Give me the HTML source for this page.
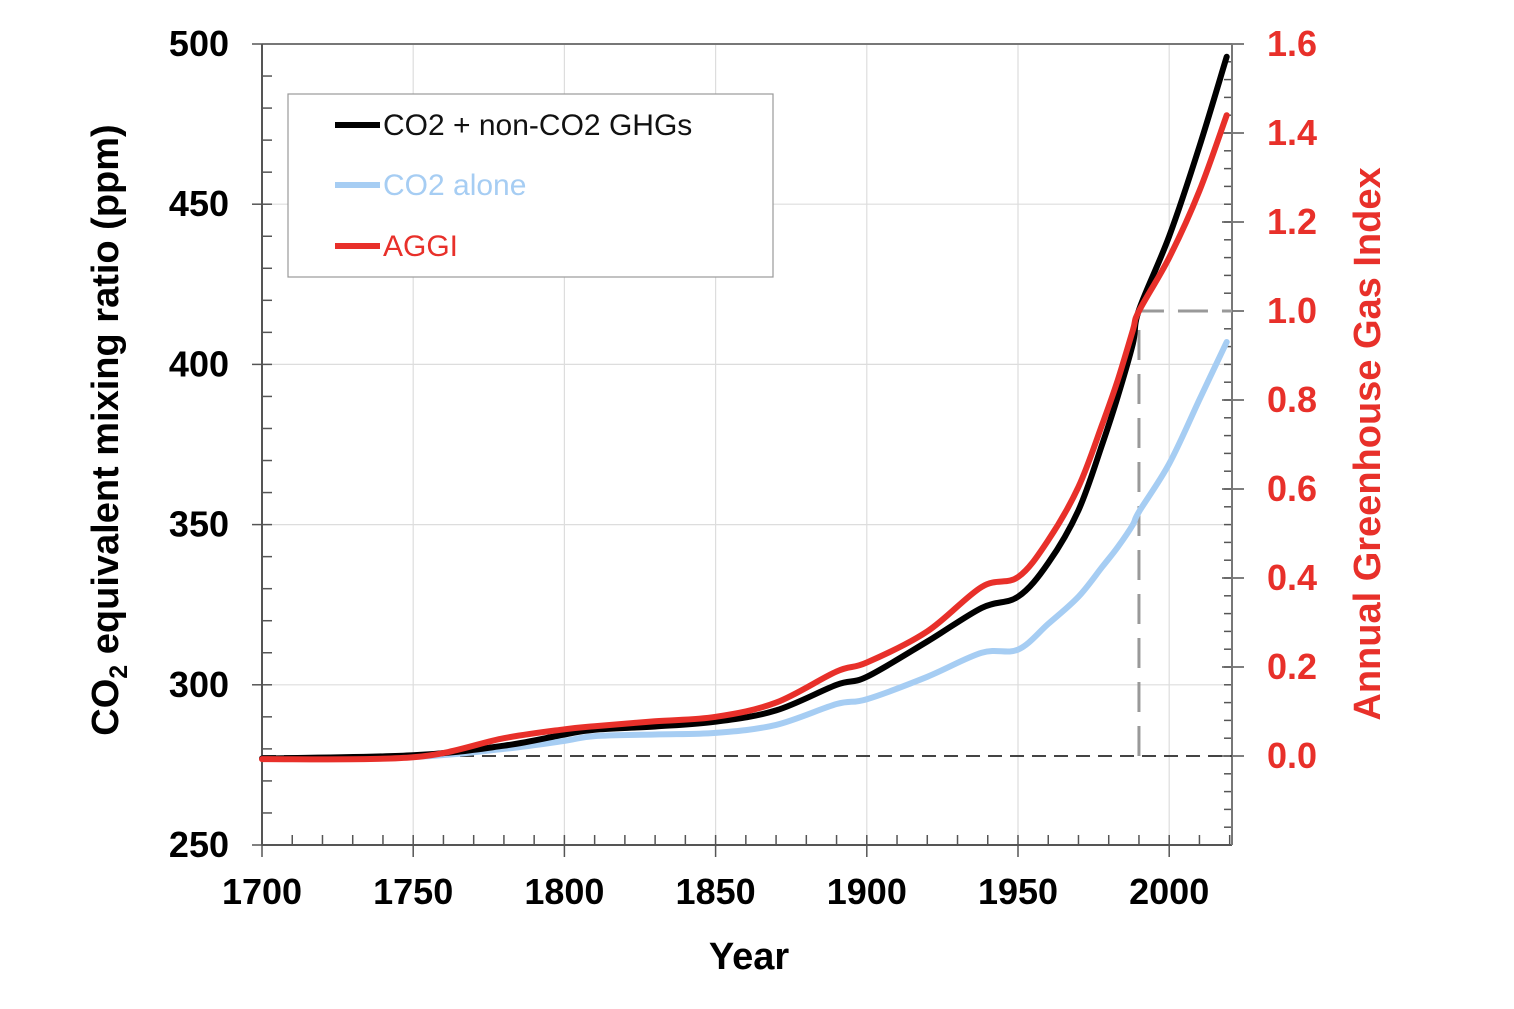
<!DOCTYPE html>
<html><head><meta charset="utf-8"><style>
body{margin:0;background:#fff}
svg{font-family:"Liberation Sans",Arial,sans-serif}
</style></head><body>
<svg id="chart" width="1514" height="1004" viewBox="0 0 1514 1004">
<g id="grid"></g>
<g id="axes"></g>
<g id="series"></g>
<g>
<rect x="288" y="94" width="485" height="183" fill="#fff" stroke="#999" stroke-width="1.2"/>
<line x1="335" y1="125" x2="380" y2="125" stroke="#000" stroke-width="6"/>
<text x="383" y="135" font-size="30" fill="#111">CO2 + non-CO2 GHGs</text>
<line x1="335" y1="185" x2="380" y2="185" stroke="#a6cdf3" stroke-width="6"/>
<text x="383" y="195" font-size="30" fill="#a6cdf3">CO2 alone</text>
<line x1="335" y1="246" x2="380" y2="246" stroke="#e8302a" stroke-width="6"/>
<text x="383" y="256" font-size="30" fill="#e8302a">AGGI</text>
</g>
<text x="749" y="969" font-size="38" font-weight="bold" text-anchor="middle">Year</text>
<text transform="translate(118,430) rotate(-90)" font-size="38" font-weight="bold" text-anchor="middle">CO<tspan font-size="25" dy="9">2</tspan><tspan dy="-9"> equivalent mixing ratio (ppm)</tspan></text>
<text transform="translate(1380,444) rotate(-90)" font-size="38" font-weight="bold" text-anchor="middle" fill="#e8302a">Annual Greenhouse Gas Index</text>
</svg>
<script>
const years=[1700,1750,1780,1800,1810,1830,1850,1870,1890,1900,1920,1938,1950,1960,1970,1978,1983,1988,1990,2000,2010,2019];
const totalPpm=[277,278,281,284.5,286,287,288.5,292,300,302.5,313.5,324,327.5,338,354.5,375.5,390,406.5,417,440,468,496];
const co2Ppm=[277,277.5,280,282.5,284,284.5,285,287.5,294,295.5,302.5,310,311,319,327.5,337,343,350,354,369,389,407];
const aggi=[-0.007,-0.003,0.04,0.06,0.067,0.078,0.088,0.12,0.19,0.21,0.28,0.38,0.402,0.485,0.605,0.748,0.845,0.957,1.0,1.12,1.27,1.44];
const xTicks=[1700,1750,1800,1850,1900,1950,2000];
const yTicks=[250,300,350,400,450,500];
const rTicks=[0,0.2,0.4,0.6,0.8,1.0,1.2,1.4,1.6];
const NS="http://www.w3.org/2000/svg";
const X0=262,X1=1232,Y0=845,Y1=44;
const xs=y=>X0+(y-1700)*(151.2/50);
const ys=v=>Y0-(v-250)*((Y0-Y1)/250);
const rs=v=>756-v*445;
function mk(p,t,a){const e=document.createElementNS(NS,t);for(const k in a)e.setAttribute(k,a[k]);p.appendChild(e);return e;}
const grid=document.getElementById('grid'),axes=document.getElementById('axes'),ser=document.getElementById('series');
xTicks.forEach(t=>{if(t>1700){const l=mk(grid,'line',{x1:xs(t),x2:xs(t),y1:Y1,y2:Y0,stroke:'#ddd','stroke-width':1.2});

}
const tx=mk(axes,'text',{x:xs(t),y:904,'font-size':36,'font-weight':'bold','text-anchor':'middle'});tx.textContent=t;


mk(axes,'line',{x1:xs(t),x2:xs(t),y1:Y0,y2:Y0+12,stroke:'#555','stroke-width':1.5});});
for(let t=1700;t<=2020;t+=10)mk(axes,'line',{x1:xs(t),x2:xs(t),y1:Y0,y2:Y0-10,stroke:'#555','stroke-width':1.5});
yTicks.forEach(t=>{if(t>250&&t<500){const l=mk(grid,'line',{x1:X0,x2:X1,y1:ys(t),y2:ys(t),stroke:'#ddd','stroke-width':1.2});

}
const tx=mk(axes,'text',{x:229,y:ys(t)+12,'font-size':36,'font-weight':'bold','text-anchor':'end'});tx.textContent=t;


mk(axes,'line',{x1:X0-10,x2:X0,y1:ys(t),y2:ys(t),stroke:'#555','stroke-width':1.5});});
for(let t=250;t<=500;t+=10)mk(axes,'line',{x1:X0,x2:X0+10,y1:ys(t),y2:ys(t),stroke:'#555','stroke-width':1.5});
rTicks.forEach(t=>{const tx=mk(axes,'text',{x:1267,y:rs(t)+12,'font-size':36,'font-weight':'bold',fill:'#e8302a'});tx.textContent=t.toFixed(1);


mk(axes,'line',{x1:X1-10,x2:X1+12,y1:rs(t),y2:rs(t),stroke:'#555','stroke-width':1.5});});
for(let i=-4;i<=40;i++){const y=rs(i*0.04);if(y<=Y0&&y>=Y1)mk(axes,'line',{x1:X1-8,x2:X1,y1:y,y2:y,stroke:'#555','stroke-width':1.5});}
mk(axes,'line',{x1:X0,x2:X1,y1:Y1,y2:Y1,stroke:'#777','stroke-width':2});
mk(axes,'line',{x1:X0,x2:X1,y1:Y0,y2:Y0,stroke:'#555','stroke-width':2});
mk(axes,'line',{x1:X0,x2:X0,y1:Y1,y2:Y0,stroke:'#555','stroke-width':2});
mk(axes,'line',{x1:X1,x2:X1,y1:Y1,y2:Y0,stroke:'#777','stroke-width':2});
const bl=mk(ser,'line',{x1:X0,x2:X1,y1:rs(0),y2:rs(0),stroke:'#444','stroke-width':2,'stroke-dasharray':'14 8'});


const ref=mk(ser,'path',{d:`M${xs(1990)},${rs(0)}V${rs(1)}H${X1}`,fill:'none',stroke:'#999','stroke-width':3,'stroke-dasharray':'30 14'});


function path(vals,f,color,name){
const P=years.map((y,i)=>[xs(y),f(vals[i])]);
let d='M'+P[0][0].toFixed(1)+','+P[0][1].toFixed(1);
for(let i=0;i<P.length-1;i++){const p0=P[Math.max(0,i-1)],p1=P[i],p2=P[i+1],p3=P[Math.min(P.length-1,i+2)];
const c1=[p1[0]+(p2[0]-p0[0])/6,p1[1]+(p2[1]-p0[1])/6],c2=[p2[0]-(p3[0]-p1[0])/6,p2[1]-(p3[1]-p1[1])/6];
d+='C'+c1.map(v=>v.toFixed(1)).join(',')+' '+c2.map(v=>v.toFixed(1)).join(',')+' '+p2[0].toFixed(1)+','+p2[1].toFixed(1);}
const p=mk(ser,'path',{d:d,fill:'none',stroke:color,'stroke-width':6,'stroke-linejoin':'round','stroke-linecap':'round'});

}
path(co2Ppm,ys,'#a6cdf3','co2-alone-line');
path(totalPpm,ys,'#000','co2-total-line');
path(aggi,rs,'#e8302a','aggi-line');
</script>
</body></html>
